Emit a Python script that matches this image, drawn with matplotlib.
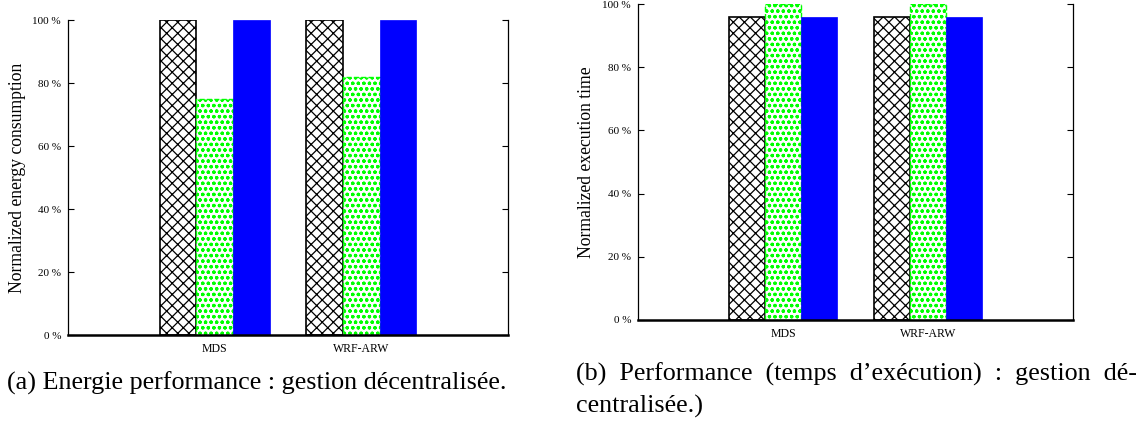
import matplotlib.pyplot as plt
import numpy as np

# donnees
apps = ["MDS", "WRF-ARW"]
energie_noir = [100, 100]
energie_vert = [75, 82]
energie_bleu = [100, 100]
temps_noir = [96, 96]
temps_vert = [100, 100]
temps_bleu = [96, 96]
yticks = [0, 20, 40, 60, 80, 100]
ytick_labels = ["0 %", "20 %", "40 %", "60 %", "80 %", "100 %"]

plt.rcParams['font.family'] = ['Liberation Serif', 'DejaVu Serif']
plt.rcParams['hatch.linewidth'] = 0.9

fig = plt.figure(figsize=(11.47, 4.23), dpi=100)
ax1 = fig.add_axes([0.0593, 0.208, 0.3836, 0.7447])
ax2 = fig.add_axes([0.5562, 0.2435, 0.3793, 0.747])

x = np.arange(len(apps))
w = 0.25

def trace(ax, noir, vert, bleu, ylabel):
    ax.bar(x - w, noir, w, facecolor='white', edgecolor='black', hatch='xxx', linewidth=1.2)
    ax.bar(x, vert, w, facecolor='white', edgecolor='#00ff00', hatch='ooo', linewidth=1.0, linestyle='--')
    ax.bar(x + w, bleu, w, facecolor='#0000ff', edgecolor='#0000ff', linewidth=0.5)
    ax.set_xlim(-1, 2)
    ax.set_ylim(0, 100)
    ax.set_xticks(x)
    ax.set_xticklabels(apps, fontsize=8.5)
    ax.set_yticks(yticks)
    ax.set_yticklabels(ytick_labels, fontsize=8)
    ax.tick_params(axis='x', length=0, pad=6)
    ax.tick_params(axis='y', direction='in', length=4, right=True, pad=5)
    ax.spines['top'].set_visible(False)
    ax.spines['bottom'].set_linewidth(1.8)
    ax.spines['left'].set_linewidth(0.9)
    ax.spines['right'].set_linewidth(0.9)
    ax.set_ylabel(ylabel, fontsize=12.7, labelpad=5)

trace(ax1, energie_noir, energie_vert, energie_bleu, "Normalized energy consumption")
trace(ax2, temps_noir, temps_vert, temps_bleu, "Normalized execution time")

fig.text(0.006, 0.08, "(a) Energie performance : gestion décentralisée.", fontsize=18.8)
fig.text(0.502, 0.1, "(b)  Performance  (temps  d\u2019exécution)  :  gestion  dé-", fontsize=18.8)
fig.text(0.502, 0.025, "centralisée.)", fontsize=18.8)

fig.savefig("out.png", dpi=100)
